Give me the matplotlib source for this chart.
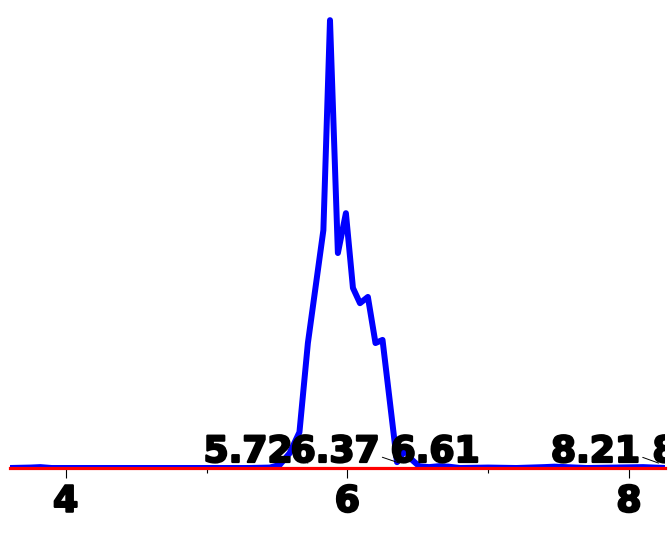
import matplotlib.pyplot as plt
import matplotlib.patheffects as pe
from matplotlib.ticker import MultipleLocator

# chemical shift (ppm) and relative intensity of the spectrum trace
shift = [3.60, 3.75, 3.82, 3.90, 4.20, 4.60, 5.00, 5.30, 5.45, 5.52, 5.59,
         5.66, 5.72, 5.83, 5.877, 5.933, 5.99, 6.04, 6.09, 6.146, 6.20, 6.25,
         6.353, 6.41, 6.46, 6.51, 6.58, 6.65, 6.72, 6.80, 7.00, 7.20, 7.40,
         7.47, 7.55, 7.70, 7.90, 8.10, 8.26]
intensity = [0.0, 0.001, 0.002, 0.0, 0.0, 0.0, 0.0, 0.0, 0.001, 0.007, 0.033,
             0.080, 0.279, 0.531, 1.0, 0.480, 0.569, 0.402, 0.368, 0.382, 0.279, 0.286,
             0.013, 0.040, 0.018, 0.004, 0.002, 0.004, 0.003, 0.0, 0.001, 0.0, 0.002,
             0.003, 0.002, 0.0, 0.001, 0.002, 0.0]

# picked peaks
peak_labels = ["5.72", "6.37", "6.61", "8.21", "8.46"]
peak_shift = [5.72, 6.37, 6.61, 8.21, 8.46]

# where the (overlapping) labels were pushed to
label_pos = [5.295, 5.913, 6.623, 7.762, 8.483]
has_leader = [True, True, False, True, False]

major_ticks = [4, 6, 8]

fig = plt.figure(figsize=(6.7, 5.52), dpi=100)
ax = fig.add_axes([9.5 / 670, 84 / 552, 655.5 / 670, 468 / 552])

ax.plot(shift, intensity, color="blue", lw=4.3, solid_joinstyle="round", zorder=2)
ax.axhline(0, color="red", lw=2.3, clip_on=False, zorder=3)

font = dict(family="DejaVu Sans", weight="bold", size=26)
heavy = [pe.withStroke(linewidth=1.6, foreground="black")]
# draw right to left so each leader line sits on top of its neighbour's text
rows = list(zip(peak_labels, peak_shift, label_pos, has_leader))
for i, (lab, px, tx, lead) in enumerate(reversed(rows)):
    arrow = None
    if lead:
        arrow = dict(arrowstyle="-", lw=0.7, color="black", relpos=(0.97, 0.4),
                     shrinkA=0, shrinkB=0)
    t = ax.annotate(lab, xy=(px, 0.011), xytext=(tx, 0.0134), textcoords="data",
                    ha="center", va="baseline", arrowprops=arrow,
                    annotation_clip=False, clip_on=True, zorder=4 + 0.01 * i, **font)
    t.set_path_effects(heavy)

ax.set_xlim(3.601, 8.256)
ax.set_ylim(0, 1.045)
ax.set_xticks(major_ticks)
ax.xaxis.set_minor_locator(MultipleLocator(1))
ax.set_xticklabels([str(t) for t in major_ticks], fontdict=font)
for lbl in ax.get_xticklabels():
    lbl.set_path_effects(heavy)
ax.tick_params(axis="x", which="major", length=7, width=0.8, pad=5)
ax.tick_params(axis="x", which="minor", length=3.5, width=0.8)
ax.set_yticks([])
for s in ax.spines.values():
    s.set_visible(False)

fig.savefig("out.png", dpi=100)
